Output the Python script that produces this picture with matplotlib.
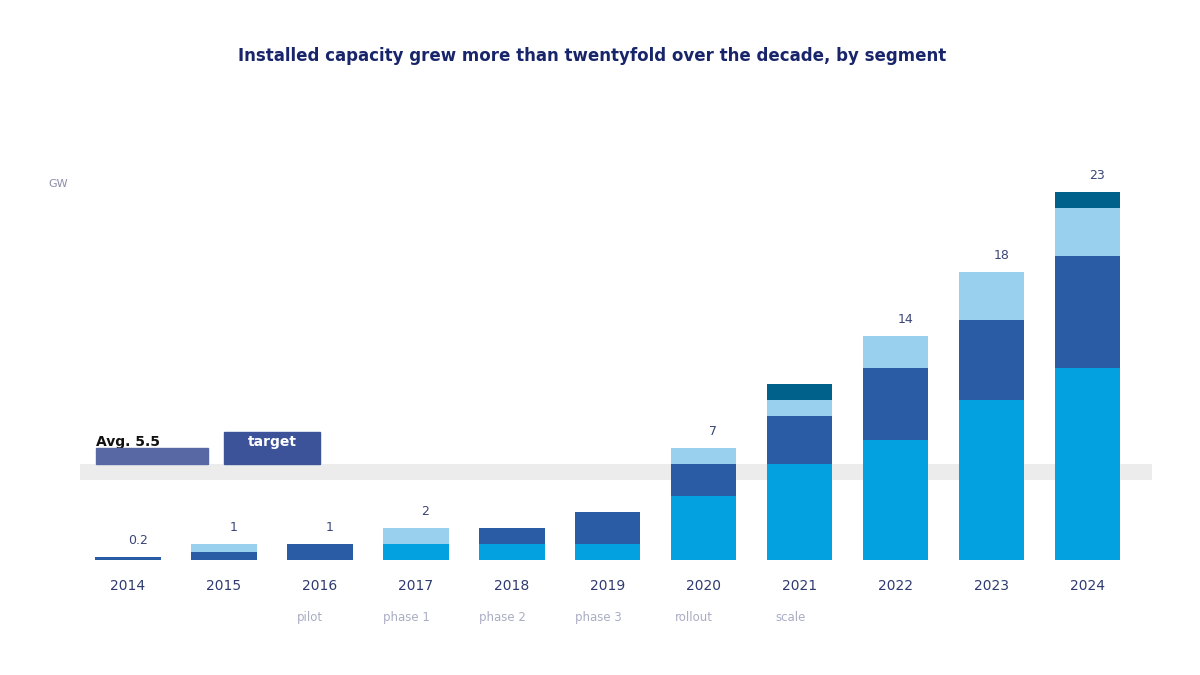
import matplotlib.pyplot as plt
from matplotlib.patches import Rectangle

# data
years = ["2014", "2015", "2016", "2017", "2018", "2019",
         "2020", "2021", "2022", "2023", "2024"]
notes = ["", "", "pilot", "phase 1", "phase 2", "phase 3", "rollout", "scale", "", "", ""]
core = [0.0, 0.0, 0.0, 1.0, 1.0, 1.0, 4.0, 6.0, 7.5, 10.0, 12.0]
expansion = [0.2, 0.5, 1.0, 0.0, 1.0, 2.0, 2.0, 3.0, 4.5, 5.0, 7.0]
services = [0.0, 0.5, 0.0, 1.0, 0.0, 0.0, 1.0, 1.0, 2.0, 3.0, 3.0]
other = [0.0, 0.0, 0.0, 0.0, 0.0, 0.0, 0.0, 1.0, 0.0, 0.0, 1.0]
show_total = [True, True, True, True, False, False, True, False, True, True, True]

c_core = "#03a1e0"
c_exp = "#2a5ca5"
c_serv = "#99d0ee"
c_other = "#00628a"
navy = "#18256a"

fig = plt.figure(figsize=(12, 6.75), dpi=100)
ax = fig.add_axes([80 / 1200, 1 - 560 / 675, 1072 / 1200, 384 / 675])

x = list(range(len(years)))
w = 0.68
b1 = core
b2 = [a + b for a, b in zip(core, expansion)]
b3 = [a + b for a, b in zip(b2, services)]
totals = [a + b for a, b in zip(b3, other)]

ax.axhline(5.5, color="#ececec", linewidth=11.5, zorder=0)
ax.bar(x, core, w, color=c_core, zorder=2)
ax.bar(x, expansion, w, bottom=b1, color=c_exp, zorder=2)
ax.bar(x, services, w, bottom=b2, color=c_serv, zorder=2)
ax.bar(x, other, w, bottom=b3, color=c_other, zorder=2)

for xi, t, s in zip(x, totals, show_total):
    if s:
        ax.text(xi + 0.1, t + 0.6, f"{t:g}", ha="center", va="bottom",
                fontsize=9, color="#3b4677")

# reference line labels
ax.text(-0.33, 7.35, "Avg. 5.5", ha="left", va="center", fontsize=10,
        fontweight="bold", color="#111111")
ax.add_patch(Rectangle((-0.33, 6.0), 1.16, 1.0, color="#5868a4", zorder=3))
ax.add_patch(Rectangle((1.0, 6.0), 1.0, 2.0, color="#3c539a", zorder=3))
ax.text(1.5, 7.4, "target", ha="center", va="center", fontsize=10,
        color="white", fontweight="bold", zorder=4)

ax.set_xlim(-0.5, 10.67)
ax.set_ylim(0, 24)
ax.set_xticks(x)
ax.set_xticklabels(years, fontsize=10, color="#2f3b70")
ax.tick_params(axis="x", length=0, pad=14)
ax.set_yticks([])
for sp in ax.spines.values():
    sp.set_visible(False)

for xi, n in zip(x, notes):
    if n:
        ax.text(xi - 0.1, -3.6, n, ha="center", va="center", fontsize=8.5,
                color="#a9adc2")

fig.text(592 / 1200, 1 - 56 / 675,
         "Installed capacity grew more than twentyfold over the decade, by segment",
         ha="center", va="center", fontsize=12, fontweight="bold", color=navy)
fig.text(48 / 1200, 1 - 184 / 675, "GW", ha="left", va="center",
         fontsize=8, color="#8a8ea8")

plt.savefig("out.png", dpi=100)
